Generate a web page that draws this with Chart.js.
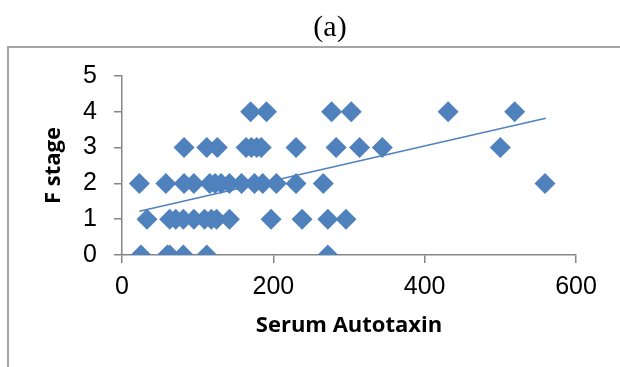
<!DOCTYPE html>
<html>
<head>
<meta charset="utf-8">
<script src="https://cdn.jsdelivr.net/npm/chart.js@4/dist/chart.umd.min.js"></script>
<style>
  html, body { margin: 0; padding: 0; background: #fff; }
</style>
</head>
<body>
<canvas id="chart" width="620" height="367"></canvas>
<script>
// serum autotaxin values, one list per fibrosis stage
const stage0 = [25, 60, 63, 81, 112, 272];
const stage1 = [33, 63, 71, 81, 95, 109, 118, 125, 142, 197, 238, 272, 296];
const stage2 = [23, 58, 82, 95, 116, 123, 131, 142, 158, 175, 186, 204, 230, 266, 559];
const stage3 = [82, 112, 126, 164, 171, 178, 184, 230, 283, 314, 344, 500];
const stage4 = [170, 191, 277, 303, 431, 519];
const stages = [stage0, stage1, stage2, stage3, stage4];

// linear trendline end points (x, y)
const trendX = [23, 560];
const trendY = [1.22, 3.82];

const xTicks = [0, 200, 400, 600];
const yTicks = [0, 1, 2, 3, 4, 5];

const blue = '#4F81BD', axisGrey = '#868686';

let points = [];
stages.forEach((xs, f) => xs.forEach(x => points.push({x: x, y: f})));
const trend = trendX.map((x, i) => ({x: x, y: trendY[i]}));

// outer frame and the "(a)" caption
const framePlugin = {
  id: 'frame',
  beforeDraw(chart) {
    const ctx = chart.ctx;
    ctx.save();
    ctx.fillStyle = '#fff';
    ctx.fillRect(0, 0, chart.width, chart.height);
    ctx.strokeStyle = '#a6a6a6';
    ctx.lineWidth = 2;
    ctx.beginPath();
    ctx.moveTo(8, chart.height + 2);
    ctx.lineTo(8, 47);
    ctx.lineTo(chart.width + 2, 47);
    ctx.stroke();
    ctx.fillStyle = '#000';
    ctx.font = '30px "Liberation Serif"';
    ctx.textAlign = 'center';
    ctx.textBaseline = 'middle';
    ctx.fillText('(a)', 330, 28);
    ctx.restore();
  }
};

new Chart(document.getElementById('chart'), {
  type: 'scatter',
  data: {
    datasets: [
      {
        data: points,
        pointStyle: 'rectRot',
        pointRadius: 10.5,
        pointHoverRadius: 10.5,
        backgroundColor: blue,
        borderColor: blue,
        borderWidth: 0,
        order: 2
      },
      {
        data: trend,
        showLine: true,
        pointRadius: 0,
        borderColor: blue,
        borderWidth: 1.5,
        order: 1
      }
    ]
  },
  options: {
    responsive: false,
    devicePixelRatio: 1,
    animation: false,
    layout: { padding: { top: 76, right: 44, bottom: 28, left: 0 } },
    plugins: { legend: { display: false }, tooltip: { enabled: false } },
    scales: {
      x: {
        type: 'linear',
        min: 0, max: 600,
        afterBuildTicks: s => { s.ticks = xTicks.map(v => ({value: v})); },
        afterFit: s => { s.height = 84; },
        ticks: { font: { family: '"Liberation Sans"', size: 25 }, color: '#000', padding: 9 },
        grid: { drawOnChartArea: false, tickLength: 8, color: axisGrey, lineWidth: 1.5 },
        border: { color: axisGrey, width: 1.5 },
        title: {
          display: true, text: 'Serum Autotaxin', color: '#000',
          font: { family: '"Open Sans"', size: 22, weight: 'bold' },
          padding: { top: 0, bottom: 0 }
        }
      },
      y: {
        min: 0, max: 5,
        afterBuildTicks: s => { s.ticks = yTicks.map(v => ({value: v})); },
        afterFit: s => { s.width = 122; },
        ticks: { font: { family: '"Liberation Sans"', size: 25 }, color: '#000', padding: 17 },
        grid: { drawOnChartArea: false, tickLength: 8, color: axisGrey, lineWidth: 1.5 },
        border: { color: axisGrey, width: 1.5 },
        title: {
          display: true, text: 'F stage', color: '#000',
          font: { family: '"Open Sans"', size: 22, weight: 'bold' },
          padding: { top: 41, bottom: 0 }
        }
      }
    }
  },
  plugins: [framePlugin]
});
</script>
</body>
</html>
